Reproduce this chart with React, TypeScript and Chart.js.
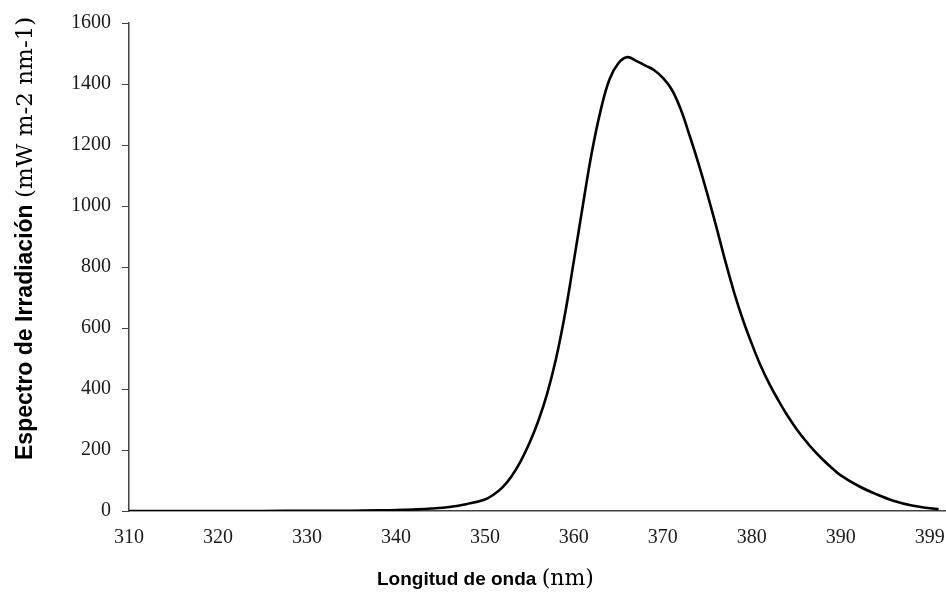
import React, { useEffect, useRef } from "react";
import { Chart, registerables } from "chart.js";

Chart.register(...registerables);

// Wavelength (nm) and irradiance (mW m-2 nm-1)
const wavelengths = [
  310, 315, 320, 325, 330, 335, 338, 340, 342, 344, 346, 348, 350, 351, 352, 353, 354, 355,
  356, 357, 358, 359, 360, 361, 362, 363, 364, 365, 366, 367, 368, 369, 370, 371, 372, 373,
  374, 375, 376, 377, 378, 379, 380, 381, 382, 383, 384, 385, 386, 387, 388, 389, 390, 392,
  394, 396, 398, 400, 401,
];
const irradiance = [
  0, 0, 0, 0, 1, 1, 2, 3, 5, 8, 13, 23, 38, 54, 78, 114, 162, 222,
  295, 385, 500, 645, 820, 1000, 1173, 1312, 1415, 1468, 1488, 1476, 1461, 1446, 1420, 1382, 1318, 1232,
  1140, 1040, 933, 822, 718, 627, 548, 476, 415, 362, 313, 270, 232, 198, 168, 141, 117, 82,
  55, 33, 18, 9, 6,
];

const xTickValues = [310, 320, 330, 340, 350, 360, 370, 380, 390, 400];
const xTickLabels = ["310", "320", "330", "340", "350", "360", "370", "380", "390", "399"];

const xTitleMain = "Longitud de onda ";
const xTitleUnit = "(nm)";
const yTitleMain = "Espectro de Irradiación ";
const yTitleUnit = "(mW m-2 nm-1)";

const titlesPlugin = {
  id: "mixedTitles",
  afterDraw(chart: any) {
    const ctx = chart.ctx;
    ctx.save();
    ctx.fillStyle = "#000";
    ctx.textBaseline = "alphabetic";
    ctx.textAlign = "left";
    // x title
    ctx.font = 'bold 19px "Liberation Sans"';
    const xStart = 377;
    const xBase = 585;
    ctx.fillText(xTitleMain, xStart, xBase);
    const w1 = ctx.measureText(xTitleMain).width;
    ctx.font = '22px "DejaVu Serif"';
    ctx.fillText(xTitleUnit, xStart + w1, xBase);
    // y title
    ctx.translate(32, 460);
    ctx.rotate(-Math.PI / 2);
    ctx.font = 'bold 23px "Liberation Sans"';
    ctx.fillText(yTitleMain, 0, 0);
    const w2 = ctx.measureText(yTitleMain).width;
    ctx.font = '23px "DejaVu Serif"';
    ctx.fillText(yTitleUnit, w2, 0);
    ctx.restore();
  },
};

export default function App() {
  const ref = useRef<HTMLCanvasElement | null>(null);

  useEffect(() => {
    if (!ref.current) return;
    const chart = new Chart(ref.current, {
      type: "line",
      data: {
        datasets: [
          {
            data: wavelengths.map((w, i) => ({ x: w, y: irradiance[i] })),
            borderColor: "#000",
            borderWidth: 2.6,
            pointRadius: 0,
            fill: false,
            tension: 0.4,
          },
        ],
      },
      options: {
        animation: false,
        responsive: false,
        layout: { padding: { left: 0, top: 18, right: 12, bottom: 0 } },
        plugins: { legend: { display: false }, tooltip: { enabled: false } },
        scales: {
          x: {
            type: "linear",
            min: 310,
            max: 402,
            afterBuildTicks: (scale: any) => {
              scale.ticks = xTickValues.map((v) => ({ value: v }));
            },
            afterFit: (scale: any) => {
              scale.height = 81;
            },
            grid: { display: true, drawOnChartArea: false, drawTicks: false },
            border: { display: true, color: "#444", width: 1.5 },
            ticks: {
              autoSkip: false,
              maxRotation: 0,
              padding: 15,
              color: "#1a1a1a",
              font: { family: '"Liberation Serif"', size: 20 },
              callback: (v: any) => {
                const i = xTickValues.indexOf(Number(v));
                return i >= 0 ? xTickLabels[i] : "";
              },
            },
          },
          y: {
            min: 0,
            max: 1600,
            afterFit: (scale: any) => {
              scale.width = 129;
            },
            grid: {
              display: true,
              drawOnChartArea: false,
              drawTicks: true,
              tickLength: 7,
              color: "#444",
            },
            border: { display: true, color: "#444", width: 1.5 },
            ticks: {
              stepSize: 200,
              padding: 11,
              color: "#1a1a1a",
              font: { family: '"Liberation Serif"', size: 20 },
              callback: (v: any) => String(v),
            },
          },
        },
      },
      plugins: [titlesPlugin],
    });
    return () => chart.destroy();
  }, []);

  return (
    <div
      style={{
        position: "fixed",
        left: 0,
        top: 0,
        width: 946,
        height: 592,
        overflow: "hidden",
        background: "#fff",
      }}
    >
      <canvas ref={ref} width={960} height={592} style={{ display: "block" }} />
    </div>
  );
}
